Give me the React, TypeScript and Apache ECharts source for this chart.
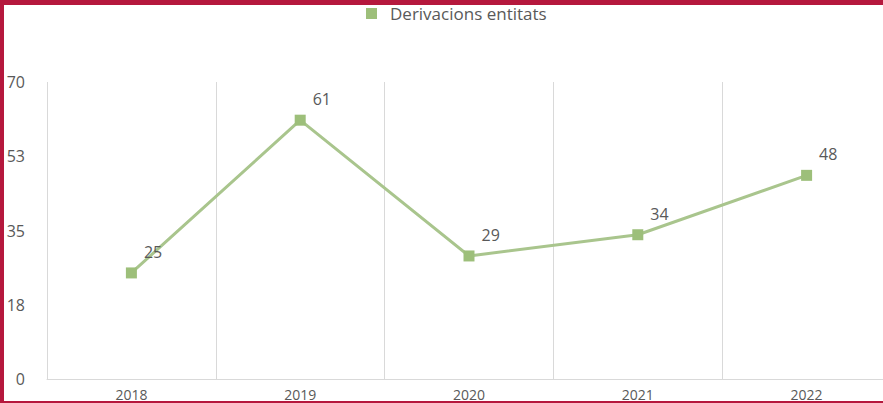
import React, { useEffect, useRef } from "react";
import * as echarts from "echarts";

const years = ["2018", "2019", "2020", "2021", "2022"];
const derivacions = [25, 61, 29, 34, 48];
const seriesName = "Derivacions entitats";

export default function App() {
  const ref = useRef<HTMLDivElement>(null);
  useEffect(() => {
    if (!ref.current) return;
    const chart = echarts.init(ref.current, undefined, { renderer: "svg" });
    chart.setOption({
      animation: false,
      backgroundColor: "#ffffff",
      textStyle: { fontFamily: "Open Sans" },
      legend: {
        top: 0,
        left: 361,
        icon: "rect",
        itemWidth: 11,
        itemHeight: 11,
        textStyle: { color: "#595959", fontSize: 17, fontFamily: "Open Sans", padding: [0, 0, 0, 8] },
        data: [seriesName],
      },
      grid: { left: 47, right: 9, top: 82, bottom: 24, containLabel: false },
      xAxis: {
        type: "category",
        data: years,
        boundaryGap: true,
        axisLine: { show: true, lineStyle: { color: "#d9d9d9", width: 1 } },
        axisTick: { show: false },
        splitLine: { show: true, lineStyle: { color: "#d9d9d9", width: 1 } },
        axisLabel: { color: "#595959", fontSize: 14, margin: 8, fontFamily: "Open Sans" },
      },
      yAxis: {
        type: "value",
        min: 0,
        max: 70,
        interval: 17.5,
        axisLine: { show: false },
        axisTick: { show: false },
        splitLine: { show: false },
        axisLabel: {
          color: "#595959",
          fontSize: 16,
          margin: 22,
          fontFamily: "Open Sans",
          formatter: (v: number) => String(Math.round(v)),
        },
      },
      series: [
        {
          name: seriesName,
          type: "line",
          data: derivacions,
          symbol: "rect",
          symbolSize: 11,
          itemStyle: { color: "#9dbf7a" },
          lineStyle: { color: "#a9c58d", width: 3 },
          label: {
            show: true,
            position: "right",
            offset: [2, -21],
            color: "#595959",
            fontSize: 16,
            fontFamily: "Open Sans",
          },
        },
      ],
    });
    return () => chart.dispose();
  }, []);
  return (
    <div style={{ position: "absolute", left: 0, top: 0, width: 883, height: 403, overflow: "hidden" }}>
      <div ref={ref} style={{ width: 900, height: 403 }} />
      <div style={{ position: "absolute", left: 0, top: 0, width: 883, height: 5, background: "#b5183d" }} />
      <div style={{ position: "absolute", left: 0, top: 0, width: 4, height: 403, background: "#b5183d" }} />
      <div style={{ position: "absolute", left: 0, top: 401, width: 883, height: 2, background: "#b5183d" }} />
    </div>
  );
}
